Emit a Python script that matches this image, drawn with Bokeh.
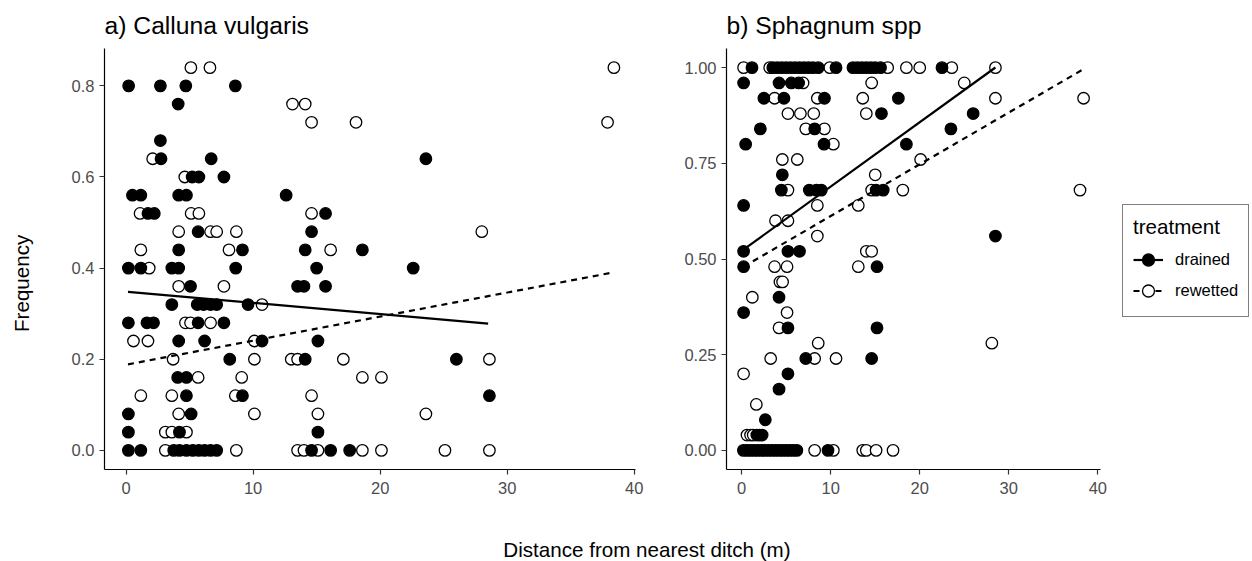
import numpy as np
from bokeh.plotting import figure
from bokeh.layouts import row, column
from bokeh.models import Range1d, FixedTicker, NumeralTickFormatter, Legend, LegendItem
from bokeh.embed import file_html
from bokeh.resources import INLINE
from bokeh.core.properties import value

FONT = "Liberation Sans"

# ---------------- data: a) Calluna vulgaris ----------------
cal_drained_x = [0.2, 2.7, 4.7, 8.6, 4.1, 2.7, 2.75, 6.7, 23.6, 5.2, 5.73, 7.7,
                 0.5, 1.16, 4.14, 4.75, 12.6, 1.72, 2.22, 15.7, 5.67, 14.6,
                 4.14, 9.16, 14.1, 18.6, 0.18, 1.16, 3.6, 4.14, 8.63, 15.0, 22.6,
                 5.07, 13.5, 14.0, 15.7, 3.6, 5.6, 6.1, 6.65, 7.13, 9.6,
                 0.18, 1.64, 2.16, 5.67, 7.7, 4.14, 6.18, 10.7, 15.1,
                 8.16, 14.1, 26.0, 4.06, 4.75, 4.75, 9.16, 28.6, 0.18, 5.12,
                 0.18, 4.2, 15.1,
                 0.18, 1.16, 3.75, 4.2, 4.75, 5.25, 5.73, 6.18, 6.65, 7.13, 14.6, 16.1, 17.6]
cal_drained_y = [0.80, 0.80, 0.80, 0.80, 0.76, 0.68, 0.64, 0.64, 0.64, 0.60, 0.60, 0.60,
                 0.56, 0.56, 0.56, 0.56, 0.56, 0.52, 0.52, 0.52, 0.48, 0.48,
                 0.44, 0.44, 0.44, 0.44, 0.40, 0.40, 0.40, 0.40, 0.40, 0.40, 0.40,
                 0.36, 0.36, 0.36, 0.36, 0.32, 0.32, 0.32, 0.32, 0.32, 0.32,
                 0.28, 0.28, 0.28, 0.28, 0.28, 0.24, 0.24, 0.24, 0.24,
                 0.20, 0.20, 0.20, 0.16, 0.16, 0.12, 0.12, 0.12, 0.08, 0.08,
                 0.04, 0.04, 0.04,
                 0.00, 0.00, 0.00, 0.00, 0.00, 0.00, 0.00, 0.00, 0.00, 0.00, 0.00, 0.00, 0.00]
cal_rewetted_x = [5.1, 6.6, 38.4, 13.1, 14.1, 14.6, 18.1, 37.9, 2.09, 4.62,
                  1.1, 5.12, 5.73, 14.6, 4.14, 6.65, 7.13, 8.68, 28.0,
                  1.16, 8.1, 16.1, 1.82, 4.14, 7.7, 10.7, 4.67, 5.07, 6.65,
                  0.58, 1.72, 10.1, 3.7, 10.1, 13.0, 13.5, 17.1, 28.6,
                  5.67, 9.1, 18.6, 20.1, 1.16, 3.6, 8.6, 14.6,
                  4.14, 10.1, 15.1, 23.6, 3.09, 3.6, 4.75,
                  3.09, 8.68, 13.5, 14.0, 15.1, 18.6, 20.1, 25.1, 28.6]
cal_rewetted_y = [0.84, 0.84, 0.84, 0.76, 0.76, 0.72, 0.72, 0.72, 0.64, 0.60,
                  0.52, 0.52, 0.52, 0.52, 0.48, 0.48, 0.48, 0.48, 0.48,
                  0.44, 0.44, 0.44, 0.40, 0.36, 0.36, 0.32, 0.28, 0.28, 0.28,
                  0.24, 0.24, 0.24, 0.20, 0.20, 0.20, 0.20, 0.20, 0.20,
                  0.16, 0.16, 0.16, 0.16, 0.12, 0.12, 0.12, 0.12,
                  0.08, 0.08, 0.08, 0.08, 0.04, 0.04, 0.04,
                  0.00, 0.00, 0.00, 0.00, 0.00, 0.00, 0.00, 0.00, 0.00]
# linear fits (intercept, slope, x-extent) per treatment
cal_fit_intercept = {"drained": 0.3484, "rewetted": 0.188}
cal_fit_slope = {"drained": -0.00247, "rewetted": 0.00528}
cal_fit_x = {"drained": [0.15, 28.5], "rewetted": [0.15, 38.3]}

# ---------------- data: b) Sphagnum spp ----------------
sph_drained_x = [1.16, 3.5, 4.0, 4.5, 5.0, 5.5, 6.0, 6.5, 7.0, 7.5, 8.0, 8.6, 10.6,
                 12.5, 13.0, 13.5, 14.0, 14.5, 15.0, 15.6, 22.5,
                 0.22, 4.2, 5.58, 6.4, 2.5, 4.75, 9.3, 17.6, 15.7, 26.0,
                 2.1, 8.2, 23.5, 0.45, 9.25, 18.5, 4.57,
                 4.46, 7.6, 8.4, 8.95, 15.1, 15.9, 0.22, 28.5,
                 0.22, 5.2, 6.5, 0.22, 15.2, 4.2, 0.22, 5.2, 15.2,
                 7.2, 14.6, 5.2, 4.2, 2.66, 1.7, 2.0, 2.3,
                 0.2, 0.6, 1.0, 1.4, 1.8, 2.2, 2.6, 3.0, 3.4, 3.8, 4.2, 4.6,
                 5.0, 5.4, 5.8, 6.2, 9.7]
sph_drained_y = [1.00] * 21 + \
                [0.96, 0.96, 0.96, 0.96, 0.92, 0.92, 0.92, 0.92, 0.88, 0.88,
                 0.84, 0.84, 0.84, 0.80, 0.80, 0.80, 0.72,
                 0.68, 0.68, 0.68, 0.68, 0.68, 0.68, 0.64, 0.56,
                 0.52, 0.52, 0.52, 0.48, 0.48, 0.40, 0.36, 0.32, 0.32,
                 0.24, 0.24, 0.20, 0.16, 0.08, 0.04, 0.04, 0.04] + [0.00] * 17
sph_rewetted_x = [0.22, 3.15, 9.9, 16.4, 18.5, 20.0, 23.6, 28.5,
                  6.9, 14.6, 25.0, 3.7, 8.5, 13.6, 28.5, 38.4,
                  5.2, 6.6, 8.1, 14.0, 7.2, 9.3, 10.3,
                  4.57, 6.25, 20.1, 15.0, 5.2, 14.6, 18.1, 38.0,
                  8.5, 13.1, 3.8, 5.2, 8.5, 14.0, 14.6,
                  3.7, 5.1, 13.1, 4.3, 4.6, 1.2, 5.1, 4.2,
                  8.6, 28.1, 3.26, 8.2, 10.6, 0.22, 1.65, 0.6, 1.0, 1.3,
                  8.2, 10.3, 13.6, 14.0, 15.1, 17.0]
sph_rewetted_y = [1.00] * 8 + [0.96] * 3 + [0.92] * 5 + [0.88] * 4 + [0.84] * 2 + \
                 [0.80] + [0.76] * 3 + [0.72] + [0.68] * 4 + [0.64] * 2 + [0.60] * 2 + \
                 [0.56] + [0.52] * 2 + [0.48] * 3 + [0.44] * 2 + [0.40] + [0.36] + \
                 [0.32] + [0.28] * 2 + [0.24] * 3 + [0.20] + [0.12] + [0.04] * 3 + \
                 [0.00] * 6
sph_fit_intercept = {"drained": 0.521, "rewetted": 0.477}
sph_fit_slope = {"drained": 0.01682, "rewetted": 0.01352}
sph_fit_x = {"drained": [0.2, 28.5], "rewetted": [0.2, 38.3]}

x_ticks = [0, 10, 20, 30, 40]
cal_y_ticks = [0.0, 0.2, 0.4, 0.6, 0.8]
sph_y_ticks = [0.0, 0.25, 0.5, 0.75, 1.0]
treatments = ["drained", "rewetted"]

TICK_COL = "#4d4d4d"
DASH = "6 5"


def style(p, yticks, yfmt):
    p.xgrid.visible = False
    p.ygrid.visible = False
    p.outline_line_color = None
    p.xaxis.ticker = FixedTicker(ticks=x_ticks)
    p.yaxis.ticker = FixedTicker(ticks=yticks)
    p.yaxis.formatter = NumeralTickFormatter(format=yfmt)
    p.xaxis.formatter = NumeralTickFormatter(format="0")
    for ax in (p.xaxis[0], p.yaxis[0]):
        ax.axis_line_color = "black"
        ax.axis_line_width = 1.2
        ax.major_tick_line_color = "#333333"
        ax.major_tick_line_width = 1.2
        ax.major_tick_out = 5
        ax.major_tick_in = 0
        ax.minor_tick_line_color = None
        ax.major_label_text_font = FONT
        ax.major_label_text_font_size = "16.5px"
        ax.major_label_text_color = TICK_COL
    p.xaxis[0].major_label_standoff = 7
    p.yaxis[0].major_label_standoff = 5
    p.title.text_font = FONT
    p.title.text_font_size = "24.7px"
    p.title.text_font_style = "normal"
    p.title.text_color = "black"
    p.title.align = "left"
    p.title.offset = 0
    p.title.standoff = 19


def draw(p, dx, dy, rx, ry, icpt, slope, fx):
    p.scatter(rx, ry, marker="circle", size=11.5, fill_color="white",
              line_color="black", line_width=1.3)
    p.scatter(dx, dy, marker="circle", size=11.5, fill_color="black",
              line_color="black", line_width=1.3)
    for key, dash in zip(treatments, ("solid", DASH)):
        xs = np.array(fx[key])
        ys = icpt[key] + slope[key] * xs
        p.line(xs, ys, line_color="black", line_width=2.2, line_dash=dash)


common = dict(height=502, output_backend="svg", toolbar_location=None,
              min_border_top=48, min_border_bottom=33)

p1 = figure(width=597, x_range=Range1d(-1.7, 40.1), y_range=Range1d(-0.042, 0.882),
            min_border_left=56, min_border_right=10, title="a) Calluna vulgaris", **common)
style(p1, cal_y_ticks, "0.0")
draw(p1, cal_drained_x, cal_drained_y, cal_rewetted_x, cal_rewetted_y,
     cal_fit_intercept, cal_fit_slope, cal_fit_x)

p2 = figure(width=467, x_range=Range1d(-1.7, 40.3), y_range=Range1d(-0.05, 1.05),
            min_border_left=81, min_border_right=12, title="b) Sphagnum spp", **common)
style(p2, sph_y_ticks, "0.00")
draw(p2, sph_drained_x, sph_drained_y, sph_rewetted_x, sph_rewetted_y,
     sph_fit_intercept, sph_fit_slope, sph_fit_x)

# legend panel: key renderers carry a single NaN point, so nothing is drawn in the panel
pleg = figure(width=140, height=502, x_range=Range1d(0, 1), y_range=Range1d(0, 1),
              min_border=0, x_axis_type=None, y_axis_type=None,
              output_backend="svg", toolbar_location=None)
pleg.outline_line_color = None
pleg.grid.visible = False
nan_pt = np.array([np.nan])
items = []
for key, dash, fill in zip(treatments, ("solid", DASH), ("black", "white")):
    ln = pleg.line(x=nan_pt, y=nan_pt, line_color="black", line_width=2.2, line_dash=dash)
    sc = pleg.scatter(x=nan_pt, y=nan_pt, marker="circle", fill_color=fill,
                      line_color="black", line_width=1.3)
    items.append(LegendItem(label=key, renderers=[ln, sc]))
legend = Legend(items=items, location=(10, 152), title="treatment")
legend.title_text_font = FONT
legend.title_text_font_size = "20.6px"
legend.title_text_font_style = "normal"
legend.title_text_color = "black"
legend.title_standoff = 5
legend.label_text_font = FONT
legend.label_text_font_size = "16.5px"
legend.label_text_color = "black"
legend.glyph_width = 30
legend.glyph_height = 31
legend.label_height = 31
legend.spacing = 0
legend.label_standoff = 12
legend.padding = 10
legend.margin = 0
legend.border_line_color = "black"
legend.border_line_width = 1
legend.background_fill_color = "white"
legend.background_fill_alpha = 1.0
pleg.add_layout(legend)

# shared y-axis title
plab = figure(width=48, height=502, x_range=Range1d(0, 48), y_range=Range1d(0, 502),
              min_border=0, x_axis_type=None, y_axis_type=None,
              output_backend="svg", toolbar_location=None)
plab.outline_line_color = None
plab.grid.visible = False
plab.text(x=[21], y=[222], text=["Frequency"], angle=np.pi / 2, text_align="center",
          text_baseline="middle", text_font=value(FONT), text_font_size="20.6px",
          text_color="black")

# shared x-axis title
pb = figure(width=1252, height=59, x_range=Range1d(0, 1252), y_range=Range1d(0, 59),
            min_border=0, x_axis_type=None, y_axis_type=None,
            output_backend="svg", toolbar_location=None)
pb.outline_line_color = None
pb.grid.visible = False
pb.text(x=[646.5], y=[12], text=["Distance from nearest ditch (m)"], text_align="center",
        text_baseline="middle", text_font=value(FONT), text_font_size="20.6px",
        text_color="black")

layout = column(row(plab, p1, p2, pleg), pb)
open("out.html", "w").write(file_html(layout, INLINE))
